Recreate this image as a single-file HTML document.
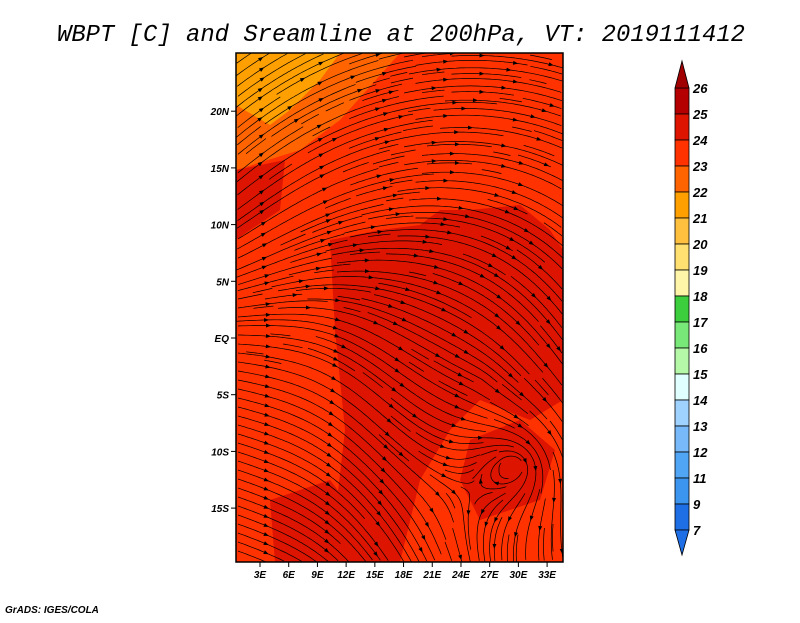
<!DOCTYPE html>
<html><head><meta charset="utf-8"><style>
body{margin:0;background:#fff;width:800px;height:618px;overflow:hidden}
svg text{font-family:"Liberation Sans",sans-serif;font-style:italic;font-weight:bold}
</style></head><body>
<svg id="c" width="800" height="618" xmlns="http://www.w3.org/2000/svg">
<text x="401" y="41" text-anchor="middle" textLength="688" lengthAdjust="spacingAndGlyphs" style="font-family:'Liberation Mono',monospace;font-weight:normal;font-style:italic;font-size:24px">WBPT [C] and Sreamline at 200hPa, VT: 2019111412</text>
<defs><clipPath id="mc"><rect x="236" y="53" width="327" height="509"/></clipPath></defs>
<g clip-path="url(#mc)">
<rect x="236" y="53" width="327" height="509" fill="#ff3200"/>
<polygon points="236,53 400,53 340,120 300,150 236,170" fill="#ff6400"/>
<polygon points="236,53 340,53 320,80 290,110 270,125 236,105" fill="#ffa000"/>
<polygon points="236,170 285,160 280,210 250,230 236,240" fill="#dc1400"/>
<polygon points="330,240 380,230 420,225 440,210 470,210 520,205 550,230 563,250 563,400 530,420 480,400 450,430 420,480 400,562 330,562 345,430 335,330" fill="#dc1400"/>
<polygon points="270,500 330,480 360,520 360,562 275,562" fill="#dc1400"/>
<polygon points="470,440 520,420 555,450 540,500 480,520 460,480" fill="#dc1400"/>
<polygon points="236,270 270,262 285,300 250,330 236,320" fill="#ff3200"/>
<g id="sl" fill="none" stroke="#000" stroke-width="0.7"></g>
</g>
<rect x="236" y="53" width="327" height="509" fill="none" stroke="#000" stroke-width="1.5"/>
<g id="ax"></g>
<g id="cb"></g>
<text x="5" y="613" style="font-size:10px">GrADS: IGES/COLA</text>
</svg>
<script>
const latTicks=[20,15,10,5,0,-5,-10,-15];
const latLabels=["20N","15N","10N","5N","EQ","5S","10S","15S"];
const lonTicks=[3,6,9,12,15,18,21,24,27,30,33];
const lonLabels=["3E","6E","9E","12E","15E","18E","21E","24E","27E","30E","33E"];
const levels=["26","25","24","23","22","21","20","19","18","17","16","15","14","13","12","11","9","7"];
const colors=["#b40000","#dc1400","#ff3200","#ff6400","#ffa000","#ffc040","#ffe070","#fff5a8","#3cce3c","#78e878","#b4f8a8","#e0ffff","#a0d2ff","#78b9fa","#50a5f5","#3c96f0","#1e6ee6"];
const NS="http://www.w3.org/2000/svg";
const yLat=v=>338-v*11.34, xLon=v=>260+(v-3)*9.57;
const ax=document.getElementById('ax');
function mk(t,a,p){const e=document.createElementNS(NS,t);for(const k in a)e.setAttribute(k,a[k]);(p||ax).appendChild(e);return e;}
latTicks.forEach((v,i)=>{const y=yLat(v);
 const t=mk('line',{x1:231,x2:236,y1:y,y2:y,stroke:'#000'});
 
 
 const l=mk('text',{x:229,y:y+4,'text-anchor':'end','font-size':'10'});l.textContent=latLabels[i];
 
 });
lonTicks.forEach((v,i)=>{const x=xLon(v);
 const t=mk('line',{x1:x,x2:x,y1:562,y2:567,stroke:'#000'});
 
 
 const l=mk('text',{x:x,y:578,'text-anchor':'middle','font-size':'10'});l.textContent=lonLabels[i];
 
 });
const cb=document.getElementById('cb');const bx=675,bw=14,by=88,bh=26;
colors.forEach((c,i)=>{const r=mk('rect',{x:bx,y:by+i*bh,width:bw,height:bh,fill:c,stroke:'#000','stroke-width':0.8},cb);
 
 });
const up=mk('polygon',{points:`${bx},${by} ${bx+bw/2},61 ${bx+bw},${by}`,fill:'#a00000',stroke:'#000','stroke-width':0.8},cb);


const ye=by+colors.length*bh;
const dn=mk('polygon',{points:`${bx},${ye} ${bx+bw/2},555 ${bx+bw},${ye}`,fill:'#1e6ee6',stroke:'#000','stroke-width':0.8},cb);


levels.forEach((s,i)=>{const t=mk('text',{x:693,y:by+i*bh+5,'font-size':'13'},cb);t.textContent=s;
 
 });
// decorative streamline field
function vel(x,y){
 let dx=x-480,dy=y-380;let d=Math.hypot(dx,dy)+1;let nu=-dy/d,nv=dx/d;
 const lw=1/(1+Math.exp((x-320)/30));
 let su=1*lw+0.5*(1-lw), sv=0.35*lw+0.85*(1-lw);let sm=Math.hypot(su,sv);su/=sm;sv/=sm;
 const w=1/(1+Math.exp(-(y-270)/60));
 let u=nu*(1-w)+su*w, v=nv*(1-w)+sv*w;
 const cx=x-515,cy=y-465,cd=Math.hypot(cx,cy)+1;const cs=Math.exp(-cd/60)*2.2;
 u+=-cy/cd*cs;v+=cx/cd*cs;
 const m=Math.hypot(u,v)+1e-6;return [u/m,v/m];}
const occ=new Set();const cell=6;const key=(x,y)=>Math.floor(x/cell)+','+Math.floor(y/cell);
const sl=document.getElementById('sl');
function trace(x,y,dir){const pts=[];for(let i=0;i<110;i++){if(x<236||x>563||y<53||y>562)break;const k=key(x,y);if(occ.has(k)&&i>0)break;pts.push([x,y]);const [u,v]=vel(x,y);x+=dir*u*2.5;y+=dir*v*2.5;}return pts;}
for(let sy=56;sy<562;sy+=9)for(let sx=238;sx<563;sx+=9){if(occ.has(key(sx,sy)))continue;
 const b=trace(sx,sy,-1).reverse(),f=trace(sx,sy,1);const pts=b.concat(f.slice(1));if(pts.length<8)continue;
 pts.forEach(p=>occ.add(key(p[0],p[1])));
 const p=mk('path',{d:'M'+pts.map(p=>p[0].toFixed(1)+','+p[1].toFixed(1)).join('L')},sl);
 
 
 for(let j=12;j<pts.length-2;j+=28){const [x,y]=pts[j];const [u,v]=vel(x,y);
  const a=mk('polygon',{points:`${x+u*3},${y+v*3} ${x-u*2-v*2},${y-v*2+u*2} ${x-u*2+v*2},${y-v*2-u*2}`,fill:'#000',stroke:'none'},sl);
  
  }}
</script>
</body></html>
